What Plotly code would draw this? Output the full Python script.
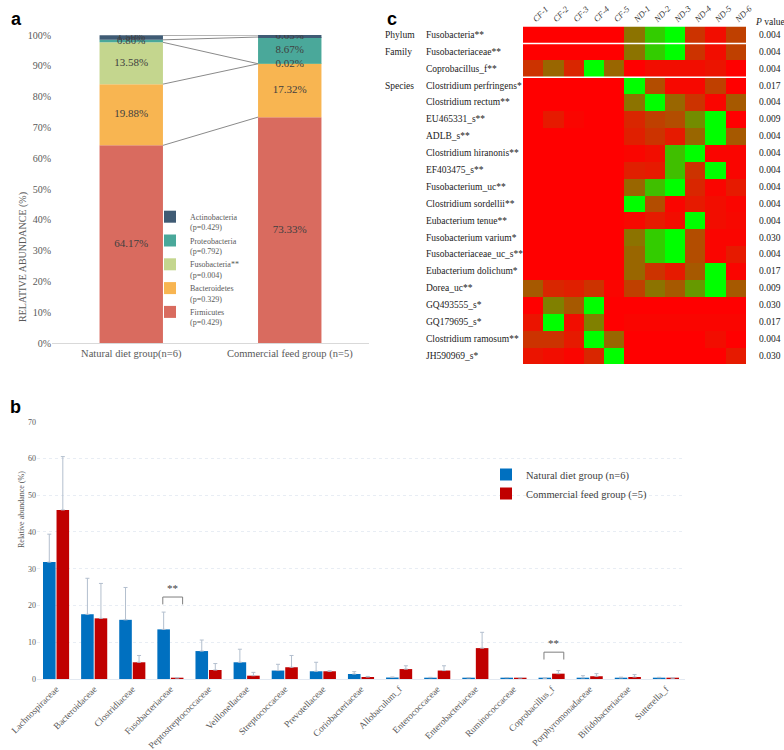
import plotly.graph_objects as go

W, H = 784, 750
SERIF = "Liberation Serif, Times New Roman, serif"
SANS = "Liberation Sans, Arial, sans-serif"

# ---------------- Panel a data ----------------
groups_a = ["Natural diet group(n=6)", "Commercial feed group (n=5)"]
phyla = ["Firmicutes", "Bacteroidetes", "Fusobacteria**", "Proteobacteria", "Actinobacteria"]
phyla_p = ["0.429", "0.329", "0.004", "0.792", "0.429"]
natural_phylum = [64.17, 19.88, 13.58, 0.80, 1.50]
commercial_phylum = [73.33, 17.32, 0.02, 8.67, 0.65]

# ---------------- Panel b data ----------------
families = ["Lachnospiraceae", "Bacteroidaceae", "Clostridiaceae", "Fusobacteriaceae",
            "Peptostreptococcaceae", "Veillonellaceae", "Streptococcaceae", "Prevotellaceae",
            "Coriobacteriaceae", "Allobaculum_f", "Enterococcaceae", "Enterobacteriaceae",
            "Ruminococcaceae", "Coprobacillus_f", "Porphyromonadaceae", "Bifidobacteriaceae",
            "Sutterella_f"]
natural_fam = [31.8, 17.6, 16.1, 13.5, 7.6, 4.55, 2.3, 2.1, 1.36, 0.4, 0.35, 0.3, 0.35, 0.2, 0.3, 0.3, 0.35]
natural_err = [7.6, 9.8, 8.8, 4.7, 3.0, 3.55, 1.7, 2.45, 0.64, 0.15, 0.1, 0.1, 0.05, 0.05, 0.6, 0.2, 0.1]
commercial_fam = [46.0, 16.5, 4.55, 0.3, 2.45, 0.9, 3.2, 2.1, 0.55, 2.7, 2.3, 8.4, 0.3, 1.45, 0.75, 0.55, 0.25]
commercial_err = [14.5, 9.5, 1.85, 0.05, 1.75, 0.9, 3.2, 0.1, 0.15, 0.9, 1.3, 4.3, 0.05, 0.85, 0.7, 0.65, 0.05]
sig_families = ["Fusobacteriaceae", "Coprobacillus_f"]
sig_marks = ["**", "**"]
sig_levels = [22.3, 7.3]
series_b = ["Natural diet group (n=6)", "Commercial feed group (=5)"]

# ---------------- Panel c data ----------------
samples = ["CF-1", "CF-2", "CF-3", "CF-4", "CF-5", "ND-1", "ND-2", "ND-3", "ND-4", "ND-5", "ND-6"]
taxa = ["Fusobacteria**", "Fusobacteriaceae**", "Coprobacillus_f**", "Clostridium perfringens*",
        "Clostridium rectum**", "EU465331_s**", "ADLB_s**", "Clostridium hiranonis**",
        "EF403475_s**", "Fusobacterium_uc**", "Clostridium sordellii**", "Eubacterium tenue**",
        "Fusobacterium varium*", "Fusobacteriaceae_uc_s**", "Eubacterium dolichum*", "Dorea_uc**",
        "GQ493555_s*", "GQ179695_s*", "Clostridium ramosum**", "JH590969_s*"]
taxa_levels = ["Phylum", "Family", "", "Species", "", "", "", "", "", "", "", "", "", "", "", "", "", "", "", ""]
p_values = ["0.004", "0.004", "0.004", "0.017", "0.004", "0.009", "0.004", "0.004", "0.004", "0.004",
            "0.004", "0.004", "0.030", "0.004", "0.017", "0.009", "0.030", "0.017", "0.004", "0.030"]
heat = [
    [0, 0, 0, 0, 0, 0.45, 0.8, 1.0, 0.2, 0.05, 0.25],
    [0, 0, 0, 0, 0, 0.45, 0.8, 1.0, 0.2, 0.05, 0.25],
    [0.2, 0.4, 0.15, 1.0, 0.4, 0, 0.05, 0.05, 0.05, 0.08, 0],
    [0, 0, 0, 0, 0, 1.0, 0.3, 0.03, 0.03, 0.25, 0],
    [0, 0, 0, 0, 0, 0.45, 1.0, 0.4, 0.2, 0.02, 0.35],
    [0, 0.1, 0.02, 0, 0, 0.15, 0.25, 0.3, 0.55, 1.0, 0],
    [0, 0, 0, 0, 0, 0.12, 0.2, 0.1, 0.4, 1.0, 0.35],
    [0, 0, 0, 0, 0, 0.02, 0.05, 0.75, 1.0, 0.02, 0.02],
    [0, 0, 0, 0, 0, 0.12, 0.1, 0.75, 0.2, 1.0, 0.02],
    [0, 0, 0, 0, 0, 0.4, 0.75, 1.0, 0.15, 0.02, 0.1],
    [0, 0, 0, 0, 0, 1.0, 0.3, 0.02, 0.1, 0.05, 0.02],
    [0, 0, 0, 0, 0, 0.03, 0.1, 0.05, 1.0, 0.05, 0.03],
    [0, 0, 0, 0, 0, 0.45, 0.8, 1.0, 0.3, 0.02, 0.02],
    [0, 0, 0, 0, 0, 0.4, 0.8, 1.0, 0.3, 0.02, 0.1],
    [0, 0, 0, 0, 0, 0.4, 0.2, 0.1, 0.35, 1.0, 0.02],
    [0.35, 0.15, 0.12, 0.2, 0.02, 0.25, 0.45, 0.35, 0.6, 1.0, 0.35],
    [0, 0.5, 0.35, 1.0, 0, 0, 0, 0, 0, 0, 0],
    [0.08, 1.0, 0.05, 0.5, 0, 0.02, 0.02, 0.02, 0.02, 0.02, 0.02],
    [0.2, 0.2, 0.1, 1.0, 0.4, 0, 0, 0, 0, 0.05, 0],
    [0.08, 0.05, 0.02, 0.15, 1.0, 0, 0, 0, 0, 0, 0.1],
]

# ---------------- styles ----------------
phyla_colors = ["#d96b5f", "#f8b551", "#c4d68e", "#4aa89a", "#3f5b74"]
color_b = ["#0070c0", "#c00000"]

def px(x):
    return x / W

def py(y):
    return 1 - y / H

fig = go.Figure()

# ---------- Panel a: stacked bars via explicit base ----------
xa = [0, 1]
base_n, base_c = 0.0, 0.0
tops_n, tops_c = [], []
cent_n, cent_c = [], []
for i, name in enumerate(phyla):
    vn, vc = natural_phylum[i], commercial_phylum[i]
    fig.add_trace(go.Bar(
        x=xa, y=[vn, vc], base=[base_n, base_c], width=0.4, offsetgroup="a",
        name=f"{name}<br>(p={phyla_p[i]})", marker=dict(color=phyla_colors[i], line=dict(width=0)),
        xaxis="x", yaxis="y", legend="legend", hoverinfo="skip"))
    cent_n.append(base_n + vn / 2)
    cent_c.append(base_c + vc / 2)
    base_n += vn
    base_c += vc
    tops_n.append(base_n)
    tops_c.append(base_c)

for tn, tc in zip(tops_n, tops_c):
    fig.add_trace(go.Scatter(x=[0.2, 0.8], y=[tn, tc], mode="lines",
                             line=dict(color="#8a8a8a", width=1), showlegend=False,
                             xaxis="x", yaxis="y", hoverinfo="skip"))

for i in range(len(phyla)):
    fig.add_trace(go.Scatter(
        x=xa, y=[cent_n[i], cent_c[i]], mode="text",
        text=[f"{natural_phylum[i]:.2f}%", f"{commercial_phylum[i]:.2f}%"],
        textfont=dict(family=SERIF, size=11, color="#404040"),
        showlegend=False, xaxis="x", yaxis="y", hoverinfo="skip"))

# ---------- Panel b: grouped bars ----------
xb = list(range(len(families)))
fig.add_trace(go.Bar(
    x=xb, y=natural_fam, name=series_b[0], offsetgroup="n",
    marker=dict(color=color_b[0], line=dict(width=0)),
    error_y=dict(type="data", array=natural_err, arrayminus=[0] * len(xb), symmetric=False,
                 color="#b3bfce", thickness=1, width=2),
    xaxis="x2", yaxis="y2", legend="legend2", hoverinfo="skip"))
fig.add_trace(go.Bar(
    x=xb, y=commercial_fam, name=series_b[1], offsetgroup="c",
    marker=dict(color=color_b[1], line=dict(width=0)),
    error_y=dict(type="data", array=commercial_err, arrayminus=[0] * len(xb), symmetric=False,
                 color="#b3bfce", thickness=1, width=2),
    xaxis="x2", yaxis="y2", legend="legend2", hoverinfo="skip"))

shapes = []
annotations = []
for fam, mark, lvl in zip(sig_families, sig_marks, sig_levels):
    i = families.index(fam)
    shapes.append(dict(type="path", xref="x2", yref="y2",
                       path=f"M {i-0.2},{lvl-2} L {i-0.2},{lvl} L {i+0.32},{lvl} L {i+0.32},{lvl-2}",
                       line=dict(color="#7f7f7f", width=1)))
    annotations.append(dict(x=i + 0.06, y=lvl + 0.3, xref="x2", yref="y2", text=mark,
                            showarrow=False, yanchor="bottom",
                            font=dict(family=SERIF, size=11, color="#404040")))

# ---------- Panel c: heatmap ----------
fig.add_trace(go.Heatmap(
    z=heat, x=list(range(len(samples))), y=list(range(len(taxa))),
    colorscale=[[0, "rgb(255,0,0)"], [1, "rgb(0,255,0)"]], zmin=0, zmax=1,
    showscale=False, xaxis="x3", yaxis="y3", hoverinfo="skip"))

for sep in [0.5, 2.5]:
    shapes.append(dict(type="line", xref="x3", yref="y3", x0=-0.5, x1=len(samples) - 0.5,
                       y0=sep, y1=sep, line=dict(color="white", width=1.5)))

for i, t in enumerate(taxa):
    annotations.append(dict(x=px(424), y=i, xref="paper", yref="y3", text=t, showarrow=False,
                            xanchor="left", font=dict(family=SERIF, size=9.5, color="#222222")))
    annotations.append(dict(x=px(770), y=i, xref="paper", yref="y3", text=p_values[i],
                            showarrow=False, xanchor="center",
                            font=dict(family=SERIF, size=9.5, color="#222222")))
    if taxa_levels[i]:
        annotations.append(dict(x=px(383), y=i, xref="paper", yref="y3", text=taxa_levels[i],
                                showarrow=False, xanchor="left",
                                font=dict(family=SERIF, size=9.5, color="#222222")))
annotations.append(dict(x=px(770), y=py(15), xref="paper", yref="paper",
                        text="<i>P</i> value", showarrow=False, xanchor="center",
                        font=dict(family=SERIF, size=9.5, color="#222222")))

# ---------- panel letters and axis titles ----------
for letter, xx, yy in [("a", 9, 7), ("b", 8, 407), ("c", 392, 7)]:
    annotations.append(dict(x=px(xx), y=py(yy), xref="paper", yref="paper", text=f"<b>{letter}</b>",
                            showarrow=False, font=dict(family=SANS, size=18, color="black")))
annotations.append(dict(x=px(15), y=py(190), xref="paper", yref="paper",
                        text="RELATIVE ABUNDANCE (%)", textangle=-90, showarrow=False,
                        font=dict(family=SERIF, size=10, color="#595959")))
annotations.append(dict(x=px(15), y=py(550), xref="paper", yref="paper",
                        text="Relative abundance (%)", textangle=-90, showarrow=False,
                        font=dict(family=SERIF, size=8, color="#595959")))

tickfont_gray = dict(family=SERIF, size=10, color="#595959")

fig.update_layout(
    template="none",
    width=W, height=H, autosize=False,
    margin=dict(l=0, r=0, t=0, b=0),
    paper_bgcolor="white", plot_bgcolor="white",
    barmode="group", bargap=0.29, bargroupgap=0.07,
    showlegend=True,
    shapes=shapes, annotations=annotations,
    xaxis=dict(domain=[px(52), px(369)], range=[-0.5, 1.5], tickvals=xa, ticktext=groups_a,
               showline=True, linecolor="#d9d9d9", ticks="", showgrid=False, zeroline=False,
               automargin=False,
               tickfont=dict(family=SERIF, size=10.5, color="#595959"), anchor="y"),
    yaxis=dict(domain=[py(343), py(35)], range=[0, 100], dtick=10, ticksuffix="%",
               showgrid=False, zeroline=False, showline=False, ticks="", automargin=False,
               tickfont=tickfont_gray, anchor="x"),
    xaxis2=dict(domain=[px(37), px(685)], range=[-0.5, len(families) - 0.5], tickvals=xb,
                ticktext=families, tickangle=-45, showline=True, linecolor="#e3e9f1", ticks="",
                showgrid=False, zeroline=False, automargin=False,
                tickfont=dict(family=SERIF, size=9.3, color="#595959"), anchor="y2"),
    yaxis2=dict(domain=[py(679), py(421.7)], range=[0, 70], dtick=10, showgrid=True,
                gridcolor="#e8edf4", griddash="dot", zeroline=False, showline=False, ticks="",
                automargin=False,
                tickfont=dict(family=SERIF, size=8, color="#595959"), anchor="x2"),
    xaxis3=dict(domain=[px(523), px(746)], range=[-0.5, len(samples) - 0.5], side="top",
                tickvals=list(range(len(samples))), ticktext=[f"<i>{s}</i>" for s in samples],
                tickangle=-45, ticks="", showgrid=False, zeroline=False, showline=False,
                automargin=False,
                tickfont=dict(family=SERIF, size=8.5, color="#333333"), anchor="y3"),
    yaxis3=dict(domain=[py(364.1), py(26.5)], range=[len(taxa) - 0.5, -0.5],
                showticklabels=False, ticks="", showgrid=False, zeroline=False, anchor="x3",
                automargin=False),
    legend=dict(x=px(150), y=py(205), xanchor="left", yanchor="top", traceorder="reversed",
                bgcolor="rgba(0,0,0,0)", font=dict(family=SERIF, size=8, color="#595959"),
                valign="top", itemwidth=30, tracegroupgap=0),
    legend2=dict(x=px(486), y=py(460), xanchor="left", yanchor="top", traceorder="normal",
                 bgcolor="rgba(0,0,0,0)", font=dict(family=SERIF, size=10.5, color="#404040")),
)

fig.write_html("out.html", config={"displayModeBar": False},
               post_script="document.body.style.margin='0';document.body.style.overflow='hidden';")
